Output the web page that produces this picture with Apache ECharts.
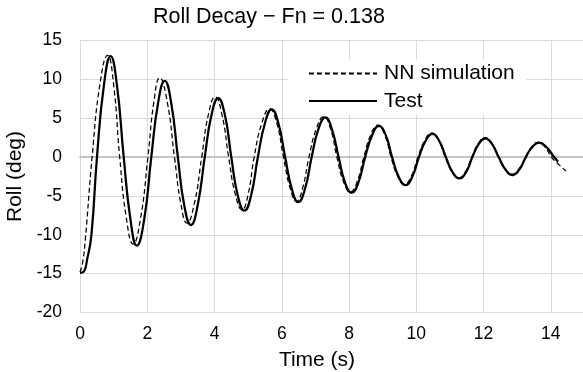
<!DOCTYPE html>
<html>
<head>
<meta charset="utf-8">
<title>Roll Decay</title>
<script src="https://cdn.jsdelivr.net/npm/echarts@6/dist/echarts.min.js"></script>
<style>
  html, body { margin: 0; padding: 0; background: #fff; }
  #chart { width: 583px; height: 372px; }
</style>
</head>
<body>
<div id="chart"></div>
<script>
// Roll angle (deg) against time (s): [time, roll]
const testTime = [0.00, 0.10, 0.22, 0.34, 0.505, 0.71, 0.91, 1.10, 1.30, 1.50, 1.69, 1.91, 2.12, 2.32, 2.52, 2.715, 2.91, 3.10, 3.30, 3.50, 3.71, 3.91, 4.11, 4.31, 4.50, 4.69, 4.89, 5.09, 5.29, 5.50, 5.70, 5.90, 6.10, 6.30, 6.49, 6.69, 6.89, 7.09, 7.30, 7.49, 7.69, 7.88, 8.08, 8.28, 8.48, 8.69, 8.89, 9.09, 9.28, 9.48, 9.68, 9.88, 10.08, 10.28, 10.48, 10.68, 10.88, 11.08, 11.28, 11.48, 11.67, 11.86, 12.05, 12.25, 12.45, 12.66, 12.86, 13.06, 13.26, 13.45, 13.65, 13.87, 14.10, 14.22];
const testRoll = [-14.9, -14.8, -13.0, -10.0, 0.0, 9.2, 13.0, 9.2, 0.0, -8.0, -11.4, -8.0, 0.0, 6.9, 9.8, 6.9, 0.0, -6.2, -8.75, -6.2, 0.0, 5.4, 7.6, 5.4, 0.0, -4.9, -6.9, -4.9, 0.0, 4.35, 6.15, 4.35, 0.0, -4.1, -5.8, -4.1, 0.0, 3.6, 5.1, 3.6, 0.0, -3.25, -4.6, -3.25, 0.0, 2.85, 4.0, 2.85, 0.0, -2.55, -3.6, -2.55, 0.0, 2.1, 3.0, 2.1, 0.0, -1.95, -2.75, -1.95, 0.0, 1.7, 2.4, 1.7, 0.0, -1.65, -2.33, -1.65, 0.0, 1.3, 1.85, 1.3, 0.0, -0.6];

const nnTime = [0.00, 0.08, 0.16, 0.36, 0.59, 0.82, 1.00, 1.18, 1.38, 1.58, 1.80, 2.02, 2.20, 2.37, 2.59, 2.81, 3.00, 3.18, 3.40, 3.62, 3.82, 4.02, 4.22, 4.42, 4.62, 4.82, 5.00, 5.18, 5.41, 5.64, 5.85, 6.05, 6.25, 6.44, 6.62, 6.81, 7.03, 7.25, 7.45, 7.64, 7.84, 8.04, 8.24, 8.44, 8.65, 8.86, 9.06, 9.25, 9.45, 9.65, 9.85, 10.05, 10.26, 10.46, 10.66, 10.86, 11.06, 11.26, 11.46, 11.65, 11.85, 12.05, 12.25, 12.45, 12.65, 12.85, 13.05, 13.25, 13.44, 13.62, 13.82, 14.02, 14.25, 14.45];
const nnRoll = [-14.8, -13.5, -10.5, 0.0, 9.3, 13.1, 9.3, 0.0, -7.9, -11.2, -7.9, 0.0, 7.2, 10.2, 7.2, 0.0, -6.0, -8.5, -6.0, 0.0, 5.5, 7.75, 5.5, 0.0, -4.8, -6.8, -4.8, 0.0, 4.4, 6.2, 4.4, 0.0, -4.0, -5.7, -4.0, 0.0, 3.65, 5.2, 3.65, 0.0, -3.2, -4.5, -3.2, 0.0, 2.9, 4.1, 2.9, 0.0, -2.5, -3.5, -2.5, 0.0, 2.2, 3.1, 2.2, 0.0, -1.9, -2.7, -1.9, 0.0, 1.75, 2.5, 1.75, 0.0, -1.55, -2.2, -1.55, 0.0, 1.35, 1.9, 1.35, 0.0, -1.0, -1.8];

const seriesNames = ['NN simulation', 'Test'];
const xTicks = { min: 0, max: 16, step: 2 };
const yTicks = { min: -20, max: 15, step: 5 };

const pairs = (xs, ys) => xs.map((x, i) => [x, ys[i]]);

const FONT = '"Liberation Sans", Arial, sans-serif';
const chart = echarts.init(document.getElementById('chart'), null, { renderer: 'canvas' });

chart.setOption({
  animation: false,
  backgroundColor: '#ffffff',
  textStyle: { fontFamily: FONT, color: '#000' },
  title: {
    text: 'Roll Decay \u2212 Fn = 0.138',
    left: 264,
    top: 1,
    textAlign: 'center',
    textStyle: { fontFamily: FONT, fontSize: 21.5, fontWeight: 'normal', color: '#000' }
  },
  legend: {
    orient: 'vertical',
    left: 288,
    top: 60,
    padding: [3, 12, 3, 20],
    backgroundColor: '#ffffff',
    itemWidth: 68,
    itemHeight: 20,
    itemGap: 6.5,
    itemStyle: { opacity: 0 },
    textStyle: { fontFamily: FONT, fontSize: 21, color: '#000', padding: [0, 0, 0, 2] },
    data: seriesNames
  },
  grid: { left: 80, top: 40.5, right: -35, bottom: 59.5, outerBoundsMode: 'none', containLabel: false },
  xAxis: [
    {
      type: 'value',
      min: xTicks.min, max: xTicks.max, interval: xTicks.step,
      name: 'Time (s)',
      nameLocation: 'middle',
      nameGap: 37,
      nameTextStyle: { fontFamily: FONT, fontSize: 21, color: '#000', padding: [0, 64, 0, 0] },
      axisLine: { show: false, onZero: false },
      axisTick: { show: false },
      axisLabel: { fontFamily: FONT, fontSize: 17.5, color: '#000', margin: 13 },
      splitLine: { show: true, lineStyle: { color: '#d9d9d9', width: 1 } }
    },
    {
      // horizontal reference line through zero roll
      type: 'value',
      min: xTicks.min, max: xTicks.max,
      position: 'bottom',
      axisLine: { show: true, onZero: true, lineStyle: { color: '#c4c4c4', width: 2 } },
      axisTick: { show: false },
      axisLabel: { show: false },
      splitLine: { show: false }
    }
  ],
  yAxis: {
    type: 'value',
    min: yTicks.min, max: yTicks.max, interval: yTicks.step,
    name: 'Roll (deg)',
    nameLocation: 'middle',
    nameGap: 54,
    nameTextStyle: { fontFamily: FONT, fontSize: 21, color: '#000' },
    axisLine: { show: false },
    axisTick: { show: false },
    axisLabel: { fontFamily: FONT, fontSize: 17.5, color: '#000', margin: 18 },
    splitLine: { show: true, lineStyle: { color: '#d9d9d9', width: 1 } }
  },
  series: [
    {
      name: seriesNames[0],
      type: 'line',
      xAxisIndex: 0,
      data: pairs(nnTime, nnRoll),
      smooth: 0.5,
      symbol: 'none',
      lineStyle: { color: '#000', width: 1.25, type: [5, 3] },
      itemStyle: { color: '#000' },
      z: 3
    },
    {
      name: seriesNames[1],
      type: 'line',
      xAxisIndex: 0,
      data: pairs(testTime, testRoll),
      smooth: 0.5,
      symbol: 'none',
      lineStyle: { color: '#000', width: 2.25 },
      itemStyle: { color: '#000' },
      z: 4
    }
  ]
});
</script>
</body>
</html>
